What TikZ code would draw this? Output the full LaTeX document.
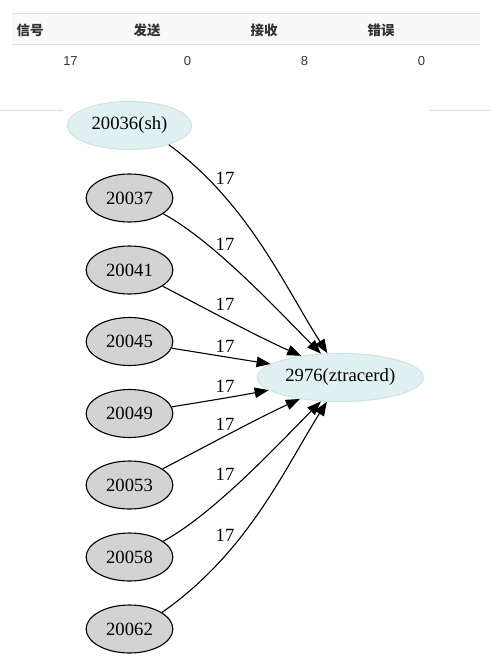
\documentclass[tikz,border=0pt]{standalone}
\usepackage{fontspec}
\setmainfont{Liberation Serif}
\newfontfamily\cjkfont{Noto Sans CJK SC}
\newfontfamily\arialfont{Liberation Sans}
\usetikzlibrary{arrows.meta,shapes.geometric}
\definecolor{tline}{HTML}{DDDDDD}
\definecolor{theadbg}{HTML}{F9F9F9}
\definecolor{ttext}{HTML}{333333}
\definecolor{cyanfill}{HTML}{E1F1F1}
\definecolor{cyandraw}{HTML}{CFE5E5}
\definecolor{grayfill}{HTML}{D3D3D3}
\tikzset{
  hdr/.style={anchor=west, inner sep=0pt, text=ttext, font=\cjkfont\bfseries\fontsize{13.5}{16}\selectfont},
  val/.style={inner sep=0pt, text=ttext, font=\arialfont\fontsize{13}{16}\selectfont},
  src/.style={ellipse, draw=black, fill=grayfill, line width=1.1pt, inner sep=0pt,
    minimum width=86.7pt, minimum height=48pt, font=\fontsize{18.67}{22}\selectfont},
  hi/.style={ellipse, draw=cyandraw, fill=cyanfill, line width=1.1pt, inner sep=0pt,
    minimum height=48pt, font=\fontsize{18.67}{22}\selectfont},
  edge/.style={line width=1.1pt, -{Triangle[length=14pt,width=10.5pt]}},
  elab/.style={inner sep=0pt, font=\fontsize{18.67}{22}\selectfont}
}
\begin{document}
\begin{tikzpicture}[x=1pt,y=-1pt]
\useasboundingbox (0,0) rectangle (490,658);
\fill[white] (0,0) rectangle (490,658);
% table
\fill[theadbg] (12,14) rectangle (480,45);
\draw[tline, line width=1pt] (12,14) -- (480,14);
\draw[tline, line width=1pt] (12,45) -- (480,45);
\draw[tline, line width=1pt] (0,111) -- (62.7,111);
\draw[tline, line width=1pt] (429,111) -- (490,111);
\node[hdr] (h1) at (16.5,30) {信号};
\node[hdr] (h2) at (133.5,30) {发送};
\node[hdr] (h3) at (250.5,30) {接收};
\node[hdr] (h4) at (367.5,30) {错误};
\node[val] (v1) at (70.5,61.5) {17};
\node[val] (v2) at (187.5,61.5) {0};
\node[val] (v3) at (304.5,61.5) {8};
\node[val] (v4) at (421.5,61.5) {0};
% nodes
\node[hi, minimum width=124.4pt] (a) at (129.5,125.5) {20036(sh)};
\node[src] (b) at (129.5,198) {20037};
\node[src] (c) at (129.5,270) {20041};
\node[src] (d) at (129.5,341.5) {20045};
\node[src] (e) at (129.5,413.5) {20049};
\node[src] (f) at (129.5,485) {20053};
\node[src] (g) at (129.5,557) {20058};
\node[src] (h) at (129.5,629) {20062};
\node[hi, minimum width=166pt] (t) at (340.3,377.5) {2976(ztracerd)};
% edges
\draw[edge] (a.334) .. controls (247.9,202.8) and (284.6,286.2) .. (t.118.7);
\draw[edge] (b.335) .. controls (214.6,241.8) and (278.3,310.9) .. (t.129);
\draw[edge] (c.334) .. controls (202.7,307.1) and (259,337.4) .. (t.151.9);
\draw[edge] (d.351) .. controls (205,353.5) and (238,359) .. (t.169.4);
\draw[edge] (e.9) .. controls (205,401.5) and (238,396) .. (t.190.6);
\draw[edge] (f.26) .. controls (202.7,447.9) and (259,417.6) .. (t.208.1);
\draw[edge] (g.25) .. controls (214.6,513.2) and (278.3,444.1) .. (t.231);
\draw[edge] (h.27) .. controls (247.9,552.2) and (284.6,468.8) .. (t.241.3);
% edge labels
\node[elab] (l1) at (225,178.3) {17};
\node[elab] (l2) at (225,244) {17};
\node[elab] (l3) at (225,304) {17};
\node[elab] (l4) at (225,346.5) {17};
\node[elab] (l5) at (225,386) {17};
\node[elab] (l6) at (225,424.3) {17};
\node[elab] (l7) at (225,474) {17};
\node[elab] (l8) at (225,535.5) {17};
\end{tikzpicture}
\end{document}
